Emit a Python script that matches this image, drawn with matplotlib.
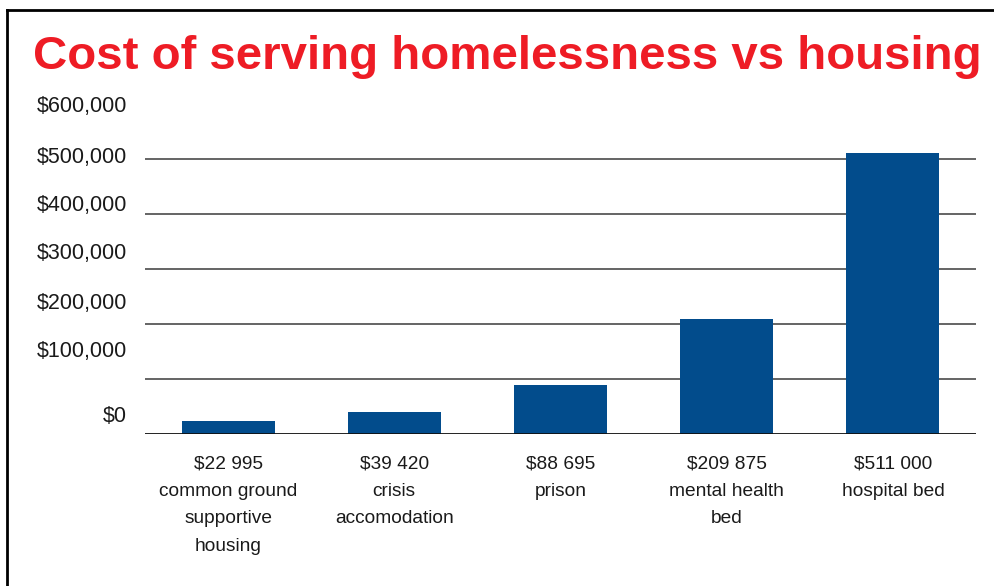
import numpy as np
import matplotlib.pyplot as plt
from matplotlib.lines import Line2D

plt.rcParams['font.family'] = ['Liberation Sans', 'DejaVu Sans']

categories = ['common ground\nsupportive\nhousing', 'crisis\naccomodation', 'prison',
              'mental health\nbed', 'hospital bed']
amount_labels = ['$22 995', '$39 420', '$88 695', '$209 875', '$511 000']
costs = [22995, 39420, 88695, 209875, 511000]
ytick_labels = ['$600,000', '$500,000', '$400,000', '$300,000', '$200,000', '$100,000', '$0']

W, H = 994, 586
fig = plt.figure(figsize=(W / 100, H / 100), dpi=100)

# axes box in pixels: x 145..976, y 104..434 (top..bottom)
ax = fig.add_axes([145 / W, (H - 434) / H, (976 - 145) / W, (434 - 104) / H])
x = np.arange(len(costs))
ax.bar(x, costs, width=0.56, color='#024C8C', zorder=3)
ax.set_xlim(-0.5, len(costs) - 0.5)
ax.set_ylim(0, 600000)

for v in range(100000, 600000, 100000):
    ax.axhline(v, color='#4a4a4a', lw=1.2, zorder=1)
ax.axhline(0, color='#111111', lw=1.3, zorder=4)

for s in ax.spines.values():
    s.set_visible(False)
ax.set_xticks([])
ax.set_yticks([])

# category labels under the bars
for i, (amt, cat) in enumerate(zip(amount_labels, categories)):
    ax.annotate(amt + '\n' + cat, xy=(i, 0), xycoords=('data', 'axes fraction'),
                xytext=(0, -21), textcoords='offset pixels', ha='center', va='top',
                fontsize=13.8, linespacing=1.82, color='#1a1a1a')

# y labels (laid out independently of the gridlines, as in the original)
label_y_px = [107, 157, 206, 254, 303, 351, 416]
for lbl, py in zip(ytick_labels, label_y_px):
    fig.text(127 / W, 1 - py / H, lbl, ha='right', va='center', fontsize=15.5, color='#1a1a1a')

fig.text(33 / W, 1 - 57 / H, 'Cost of serving homelessness vs housing', ha='left', va='center',
         fontsize=34.1, fontweight='bold', color='#EE1C25')

# outer frame (left and top edges visible)
fig.add_artist(Line2D([7 / W, 7 / W], [0, 1 - 10 / H], transform=fig.transFigure, color='black', lw=2))
fig.add_artist(Line2D([7 / W, 1], [1 - 10 / H, 1 - 10 / H], transform=fig.transFigure, color='black', lw=2))

fig.savefig('out.png', dpi=100)
